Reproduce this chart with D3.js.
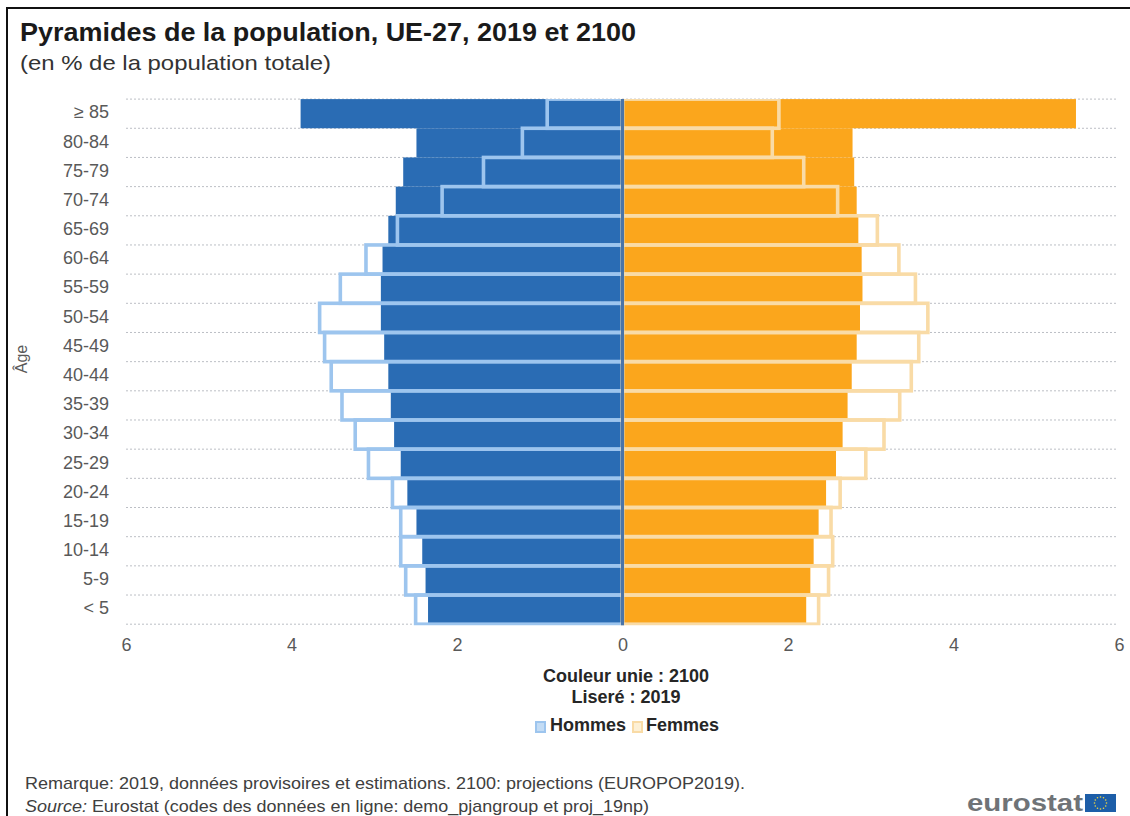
<!DOCTYPE html>
<html lang="fr">
<head>
<meta charset="utf-8">
<title>Pyramides de la population</title>
<script src="https://cdn.jsdelivr.net/npm/d3@7"></script>
<style>
html,body{margin:0;padding:0;background:#fff;}
svg{display:block;font-family:"Liberation Sans",Arial,sans-serif;}
.axis text{fill:#595959;font-size:18px;}
.axis .domain,.axis line{display:none;}
.grid line{stroke:#bcbfc5;stroke-width:1;stroke-dasharray:2 2;}
</style>
</head>
<body>
<div id="chart"></div>
<script>
// age groups, oldest first
var ages=["≥ 85","80-84","75-79","70-74","65-69","60-64","55-59","50-54","45-49","40-44","35-39","30-34","25-29","20-24","15-19","10-14","5-9","< 5"];
var hommes2100=[3.89,2.49,2.65,2.74,2.83,2.90,2.92,2.92,2.88,2.83,2.80,2.76,2.68,2.60,2.49,2.42,2.38,2.35];
var hommes2019=[0.91,1.21,1.68,2.18,2.72,3.10,3.41,3.66,3.60,3.52,3.39,3.23,3.07,2.78,2.68,2.68,2.62,2.50];
var femmes2100=[5.48,2.78,2.80,2.83,2.85,2.89,2.90,2.87,2.83,2.77,2.72,2.66,2.58,2.46,2.37,2.31,2.27,2.22];
var femmes2019=[1.89,1.81,2.19,2.60,3.08,3.34,3.54,3.69,3.58,3.49,3.35,3.16,2.94,2.63,2.52,2.54,2.49,2.37];
var xTicks=[-6,-4,-2,0,2,4,6];

var width=1130,height=816;
var blue="#2a6cb4",blueLight="#9dc5ee",orange="#fba61c",orangeLight="#f9dba6";

var svg=d3.select("#chart").append("svg")
	.attr("width",width)
	.attr("height",height);

// frame: only top and left are visible
svg.append("line").attr("x1",7).attr("x2",width).attr("y1",8).attr("y2",8).attr("stroke","#111").attr("stroke-width",2);
svg.append("line").attr("x1",7).attr("x2",7).attr("y1",7).attr("y2",height).attr("stroke","#111").attr("stroke-width",2);

svg.append("text").attr("x",20).attr("y",41)
	.attr("font-size",25).attr("font-weight","bold").attr("fill","#1a1a1a")
	.attr("textLength",616).attr("lengthAdjust","spacingAndGlyphs")
	.text("Pyramides de la population, UE-27, 2019 et 2100");
svg.append("text").attr("x",20).attr("y",70)
	.attr("font-size",21).attr("fill","#333")
	.attr("textLength",311).attr("lengthAdjust","spacingAndGlyphs")
	.text("(en % de la population totale)");

/***** scales *****/
var x=d3.scaleLinear().domain([-6,6]).range([126,1119]);
var y=d3.scaleBand().domain(ages).range([99.1,624.2]).padding(0);

// dotted separators between age groups
var edges=ages.map(function(d){return y(d);}).concat([y.range()[1]]);
svg.append("g").attr("class","grid")
	.selectAll("line").data(edges).enter().append("line")
	.attr("x1",x(-6)).attr("x2",x(6)-1)
	.attr("y1",function(d){return d;})
	.attr("y2",function(d){return d;});

// outlines get trimmed at the top and bottom of the plot area
svg.append("clipPath").attr("id","plot-clip")
	.append("rect")
	.attr("x",0).attr("width",width)
	.attr("y",y.range()[0]).attr("height",y.range()[1]-y.range()[0]+1);

/***** 2100 : solid bars *****/
function solidBars(values,sign,colour){
	svg.append("g").selectAll("rect").data(values).enter().append("rect")
		.attr("x",function(d){return sign<0?x(-d):x(0);})
		.attr("y",function(d,i){return y(ages[i]);})
		.attr("width",function(d){return sign<0?x(0)-x(-d):x(d)-x(0);})
		.attr("height",y.bandwidth())
		.attr("fill",colour);
}
/***** 2019 : outlined bars on top *****/
function outlineBars(values,sign,colour){
	svg.append("g").attr("clip-path","url(#plot-clip)")
		.selectAll("rect").data(values).enter().append("rect")
		.attr("x",function(d){return sign<0?x(-d):x(0);})
		.attr("y",function(d,i){return y(ages[i]);})
		.attr("width",function(d){return sign<0?x(0)-x(-d):x(d)-x(0);})
		.attr("height",y.bandwidth())
		.attr("fill","none")
		.attr("stroke",colour)
		.attr("stroke-width",3.6);
}
solidBars(hommes2100,-1,blue);
solidBars(femmes2100,1,orange);
outlineBars(hommes2019,-1,blueLight);
outlineBars(femmes2019,1,orangeLight);

// central zero line
svg.append("line")
	.attr("x1",x(0)).attr("x2",x(0))
	.attr("y1",y.range()[0]).attr("y2",y.range()[1]+1)
	.attr("stroke","#4a74a8").attr("stroke-width",3);

/***** axes *****/
svg.append("g").attr("class","axis")
	.attr("transform","translate(109,-1)")
	.call(d3.axisLeft(y).tickSize(0).tickPadding(0));
svg.append("g").attr("class","axis")
	.attr("transform","translate(0,638)")
	.call(d3.axisBottom(x).tickValues(xTicks).tickSize(0).tickPadding(0)
		.tickFormat(function(d){return Math.abs(d);}));

svg.append("text")
	.attr("transform","translate(27,359) rotate(-90)")
	.attr("text-anchor","middle")
	.attr("font-size",16).attr("fill","#595959")
	.text("Âge");

/***** legend *****/
svg.append("text").attr("x",626).attr("y",682).attr("text-anchor","middle")
	.attr("font-size",18).attr("font-weight","bold").attr("fill","#262626")
	.text("Couleur unie : 2100");
svg.append("text").attr("x",626).attr("y",703).attr("text-anchor","middle")
	.attr("font-size",18).attr("font-weight","bold").attr("fill","#262626")
	.text("Liseré : 2019");

var legend=[{label:"Hommes",fill:"#c3dcf5",stroke:blueLight,sx:535,tx:550},
	{label:"Femmes",fill:"#fdf0d5",stroke:orangeLight,sx:632,tx:646}];
legend.forEach(function(d){
	svg.append("rect").attr("x",d.sx+1).attr("y",722).attr("width",9).attr("height",10)
		.attr("fill",d.fill).attr("stroke",d.stroke).attr("stroke-width",2);
	svg.append("text").attr("x",d.tx).attr("y",731)
		.attr("font-size",18).attr("font-weight","bold").attr("fill","#262626")
		.text(d.label);
});

/***** notes *****/
svg.append("text").attr("x",25).attr("y",789)
	.attr("font-size",17).attr("fill","#404040")
	.attr("textLength",720).attr("lengthAdjust","spacingAndGlyphs")
	.text("Remarque: 2019, données provisoires et estimations. 2100: projections (EUROPOP2019).");
var source=svg.append("text").attr("x",25).attr("y",812)
	.attr("font-size",17).attr("fill","#404040")
	.attr("textLength",624).attr("lengthAdjust","spacingAndGlyphs");
source.append("tspan").attr("font-style","italic").text("Source:");
source.append("tspan").text(" Eurostat (codes des données en ligne: demo_pjangroup et proj_19np)");

/***** logo *****/
svg.append("text").attr("x",967).attr("y",811)
	.attr("font-size",24).attr("font-weight","bold").attr("fill","#6f7377")
	.attr("textLength",116).attr("lengthAdjust","spacingAndGlyphs")
	.text("eurostat");
svg.append("rect").attr("x",1085).attr("y",794).attr("width",31).attr("height",18).attr("fill","#1d5ea8");
svg.append("g").selectAll("circle").data(d3.range(12)).enter().append("circle")
	.attr("cx",function(d){return 1100.5+6*Math.cos(d*Math.PI/6);})
	.attr("cy",function(d){return 803+6*Math.sin(d*Math.PI/6);})
	.attr("r",0.8)
	.attr("fill","#f2d640");
</script>
</body>
</html>
